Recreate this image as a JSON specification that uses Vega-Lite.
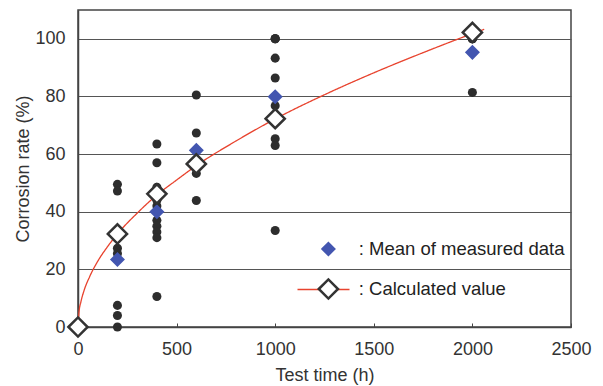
{
  "$schema": "https://vega.github.io/schema/vega-lite/v6.json",
  "width": 493,
  "height": 317,
  "autosize": {"type": "none"},
  "padding": {"left": 78, "top": 10, "right": 32, "bottom": 59},
  "background": "white",
  "config": {
    "font": "Liberation Sans",
    "view": {"stroke": "#444444", "strokeWidth": 1.5},
    "axis": {
      "labelFont": "Liberation Sans", "labelFontSize": 18, "labelColor": "#333333",
      "titleFont": "Liberation Sans", "titleFontSize": 18, "titleFontWeight": "normal", "titleColor": "#333333",
      "domainColor": "#444444", "domainWidth": 1.5, "tickColor": "#444444", "gridColor": "#555555", "gridWidth": 1
    }
  },
  "data": {
    "values": [
      {"kind": "curve", "t": 0, "v": 0},
      {"kind": "curve", "t": 5, "v": 5.1},
      {"kind": "curve", "t": 15, "v": 8.8},
      {"kind": "curve", "t": 30, "v": 12.5},
      {"kind": "curve", "t": 60, "v": 17.6},
      {"kind": "curve", "t": 100, "v": 22.8},
      {"kind": "curve", "t": 150, "v": 27.9},
      {"kind": "curve", "t": 200, "v": 32.3},
      {"kind": "curve", "t": 300, "v": 39.5},
      {"kind": "curve", "t": 400, "v": 45.8},
      {"kind": "curve", "t": 500, "v": 51},
      {"kind": "curve", "t": 600, "v": 56},
      {"kind": "curve", "t": 800, "v": 64.5},
      {"kind": "curve", "t": 1000, "v": 72.2},
      {"kind": "curve", "t": 1250, "v": 80.6},
      {"kind": "curve", "t": 1500, "v": 88.2},
      {"kind": "curve", "t": 1750, "v": 95.2},
      {"kind": "curve", "t": 2000, "v": 101.8},
      {"kind": "curve", "t": 2060, "v": 103.3},
      {"kind": "measured", "t": 200, "v": 49.5},
      {"kind": "measured", "t": 200, "v": 47.2},
      {"kind": "measured", "t": 200, "v": 27.3},
      {"kind": "measured", "t": 200, "v": 25.5},
      {"kind": "measured", "t": 200, "v": 7.5},
      {"kind": "measured", "t": 200, "v": 4},
      {"kind": "measured", "t": 200, "v": 0},
      {"kind": "measured", "t": 400, "v": 63.5},
      {"kind": "measured", "t": 400, "v": 57},
      {"kind": "measured", "t": 400, "v": 48.5},
      {"kind": "measured", "t": 400, "v": 44},
      {"kind": "measured", "t": 400, "v": 42},
      {"kind": "measured", "t": 400, "v": 37},
      {"kind": "measured", "t": 400, "v": 35},
      {"kind": "measured", "t": 400, "v": 33},
      {"kind": "measured", "t": 400, "v": 31},
      {"kind": "measured", "t": 400, "v": 10.6},
      {"kind": "measured", "t": 600, "v": 80.5},
      {"kind": "measured", "t": 600, "v": 67.3},
      {"kind": "measured", "t": 600, "v": 53.3},
      {"kind": "measured", "t": 600, "v": 43.9},
      {"kind": "measured", "t": 1000, "v": 100},
      {"kind": "measured", "t": 1000, "v": 100},
      {"kind": "measured", "t": 1000, "v": 100},
      {"kind": "measured", "t": 1000, "v": 93.3},
      {"kind": "measured", "t": 1000, "v": 86.4},
      {"kind": "measured", "t": 1000, "v": 76.8},
      {"kind": "measured", "t": 1000, "v": 65.3},
      {"kind": "measured", "t": 1000, "v": 63},
      {"kind": "measured", "t": 1000, "v": 33.5},
      {"kind": "measured", "t": 2000, "v": 100},
      {"kind": "measured", "t": 2000, "v": 100},
      {"kind": "measured", "t": 2000, "v": 100},
      {"kind": "measured", "t": 2000, "v": 81.4},
      {"kind": "mean", "series": "Mean of measured data", "t": 200, "v": 23.4},
      {"kind": "mean", "series": "Mean of measured data", "t": 400, "v": 40},
      {"kind": "mean", "series": "Mean of measured data", "t": 600, "v": 61.3},
      {"kind": "mean", "series": "Mean of measured data", "t": 1000, "v": 79.9},
      {"kind": "mean", "series": "Mean of measured data", "t": 2000, "v": 95.3},
      {"kind": "calc", "series": "Calculated value", "t": 0, "v": 0},
      {"kind": "calc", "series": "Calculated value", "t": 200, "v": 32.3},
      {"kind": "calc", "series": "Calculated value", "t": 400, "v": 46.2},
      {"kind": "calc", "series": "Calculated value", "t": 600, "v": 56.6},
      {"kind": "calc", "series": "Calculated value", "t": 1000, "v": 72.3},
      {"kind": "calc", "series": "Calculated value", "t": 2000, "v": 102.2}
    ]
  },
  "encoding": {
    "x": {
      "field": "t", "type": "quantitative",
      "scale": {"domain": [0, 2500], "nice": false},
      "axis": {"title": "Test time (h)", "values": [0, 500, 1000, 1500, 2000, 2500], "format": "d", "grid": false, "tickSize": -4, "tickWidth": 1, "labelPadding": 17, "titlePadding": 8, "labelFlush": false, "labelOverlap": false}
    },
    "y": {
      "field": "v", "type": "quantitative",
      "scale": {"domain": [0, 110], "nice": false},
      "axis": {"title": "Corrosion rate (%)", "values": [0, 20, 40, 60, 80, 100], "format": "d", "grid": true, "ticks": false, "tickSize": 0, "labelPadding": 13, "titlePadding": 2}
    }
  },
  "layer": [
    {
      "transform": [{"filter": "datum.kind == 'curve'"}],
      "mark": {"type": "line", "stroke": "#e8432e", "strokeWidth": 1.3, "interpolate": "monotone"},
      "encoding": {
        "strokeDash": {
          "field": "kind", "type": "nominal",
          "legend": {
            "title": null, "orient": "none", "legendX": 218.5, "legendY": 252.5,
            "symbolType": "stroke", "symbolSize": 2704, "labelExpr": "''",
            "symbolStrokeColor": "#e8432e", "symbolStrokeWidth": 1.3,
            "encode": {"symbols": {"update": {"strokeDash": {"value": [20, 22, 10]}, "stroke": {"value": "#e8432e"}}}}
          }
        }
      }
    },
    {
      "transform": [{"filter": "datum.kind == 'measured'"}],
      "mark": {"type": "circle", "size": 82, "color": "#2d2d2d", "opacity": 1}
    },
    {
      "transform": [{"filter": "datum.kind == 'mean' || datum.kind == 'calc'"}],
      "mark": {"type": "point", "opacity": 1, "strokeWidth": 2.5, "size": 369},
      "encoding": {
        "shape": {
          "field": "series", "type": "nominal",
          "scale": {"domain": ["Mean of measured data", "Calculated value"], "range": ["M-0.6,0L0,-0.6L0.6,0L0,0.6Z", "M-1,0L0,-1L1,0L0,1Z"]},
          "legend": {
            "title": null, "orient": "none", "legendX": 239.4, "legendY": 228,
            "symbolSize": 369, "symbolStrokeWidth": 2.5, "labelOffset": 19.4, "rowPadding": 14,
            "labelFontSize": 18.5, "labelColor": "#222222", "labelFont": "Liberation Sans", "labelLimit": 400,
            "labelExpr": "': ' + datum.label"
          }
        },
        "fill": {
          "field": "series", "type": "nominal",
          "scale": {"domain": ["Mean of measured data", "Calculated value"], "range": ["#4356b0", "#ffffff"]}
        },
        "stroke": {
          "field": "series", "type": "nominal",
          "scale": {"domain": ["Mean of measured data", "Calculated value"], "range": ["#4356b0", "#333333"]}
        }
      }
    }
  ]
}
